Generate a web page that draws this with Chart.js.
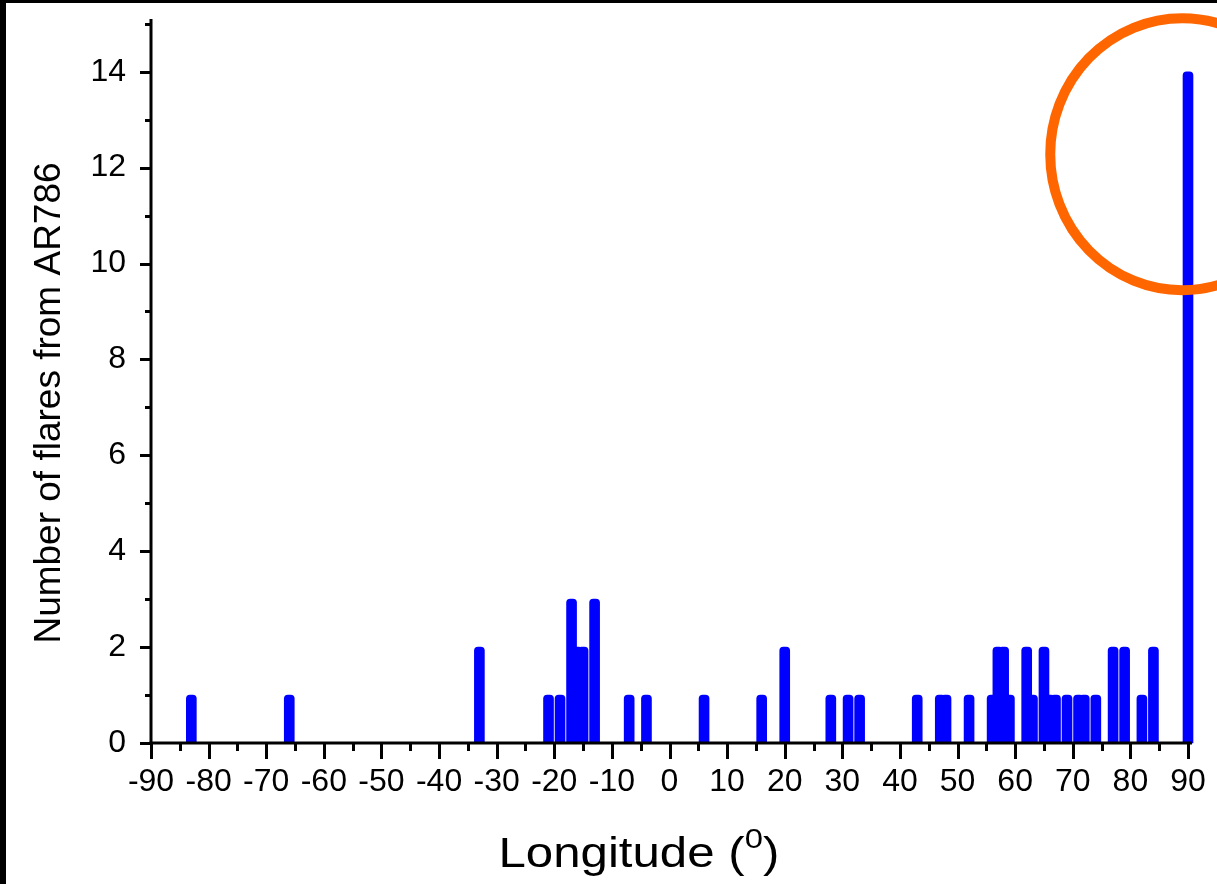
<!DOCTYPE html>
<html><head><meta charset="utf-8">
<script src="https://cdn.jsdelivr.net/npm/chart.js@4.4.1/dist/chart.umd.min.js"></script>
<style>html,body{margin:0;padding:0;background:#fff;overflow:hidden}canvas{display:block}</style>
</head><body>
<canvas id="c" width="1217" height="884"></canvas>
<script>
// ---- data ----
const longitudes  = [-83,-66,-33,-21,-19,-17,-16,-15,-13,-7,-4,6,16,20,28,31,33,43,47,48,52,56,57,58,59,62,63,65,66,67,69,71,72,74,77,79,82,84,90];
const flareCounts = [  1,  1,  2,  1,  1,  3,  2,  2,  3, 1, 1,1, 1, 2, 1, 1, 1, 1, 1, 1, 1, 1, 2, 2, 1, 2, 1, 2, 1, 1, 1, 1, 1, 1, 2, 2, 1, 2,14];
const xTickValues = [-90,-80,-70,-60,-50,-40,-30,-20,-10,0,10,20,30,40,50,60,70,80,90];
const xMinorTickValues = [-85,-75,-65,-55,-45,-35,-25,-15,-5,5,15,25,35,45,55,65,75,85];
const yTickValues = [0,2,4,6,8,10,12,14];
const yMinorTickValues = [1,3,5,7,9,11,13,15];
const xTitleMain = 'Longitude (';
const xTitleSup = '0';
const xTitleEnd = ')';
const yTitle = 'Number of flares from AR786';
const highlightLongitude = 89;
const highlightCount = 12.28;

const FONT = '"Liberation Sans", Arial, Helvetica, sans-serif';

const bgPlugin = {
  id: 'bg',
  beforeDraw(chart) {
    const ctx = chart.ctx;
    ctx.save();
    ctx.fillStyle = '#fff';
    ctx.fillRect(0, 0, chart.width, chart.height);
    ctx.fillStyle = '#000';
    ctx.fillRect(0, 0, chart.width, 3);
    ctx.fillRect(0, 0, 6, chart.height);
    ctx.restore();
  }
};

const axesPlugin = {
  id: 'axesTicks',
  afterDatasetsDraw(chart) {
    const {ctx, scales: {x, y}} = chart;
    ctx.save();
    ctx.strokeStyle = '#000';
    ctx.lineWidth = 3;
    ctx.lineCap = 'butt';
    const line = (x1, y1, x2, y2) => { ctx.beginPath(); ctx.moveTo(x1, y1); ctx.lineTo(x2, y2); ctx.stroke(); };
    const y0 = y.getPixelForValue(0);
    const xl = x.getPixelForValue(-90);
    // axis lines
    line(xl, y.getPixelForValue(y.max), xl, y0 + 1.5);
    line(xl - 1.5, y0, x.getPixelForValue(90) + 4, y0);
    // x ticks
    xTickValues.forEach(v => { const p = Math.round(x.getPixelForValue(v)) + 0.5; line(p, y0, p, y0 + 16); });
    xMinorTickValues.forEach(v => { const p = Math.round(x.getPixelForValue(v)) + 0.5; line(p, y0, p, y0 + 8); });
    // y ticks
    yTickValues.forEach(v => { const p = Math.round(y.getPixelForValue(v)) + 0.5; line(xl, p, xl - 11, p); });
    yMinorTickValues.forEach(v => { const p = Math.round(y.getPixelForValue(v)) + 0.5; line(xl, p, xl - 6, p); });
    ctx.restore();
  }
};

const titlePlugin = {
  id: 'titles',
  afterDraw(chart) {
    const ctx = chart.ctx;
    ctx.save();
    ctx.fillStyle = '#000';
    ctx.font = '37px ' + FONT;
    ctx.textAlign = 'center';
    ctx.textBaseline = 'alphabetic';
    ctx.translate(60, 403);
    ctx.rotate(-Math.PI / 2);
    ctx.fillText(yTitle, 0, 0);
    ctx.restore();

    ctx.save();
    ctx.fillStyle = '#000';
    ctx.textAlign = 'left';
    ctx.textBaseline = 'alphabetic';
    ctx.font = '42px ' + FONT;
    const m = ctx.measureText('Longitude');
    const ink = m.actualBoundingBoxRight + m.actualBoundingBoxLeft;
    const sx = 211 / ink;
    ctx.translate(502, 867);
    ctx.scale(sx, 1);
    let px = m.actualBoundingBoxLeft;
    ctx.fillText(xTitleMain, px, 0);
    px += ctx.measureText(xTitleMain).width;
    ctx.font = '28px ' + FONT;
    ctx.fillText(xTitleSup, px, -19);
    px += ctx.measureText(xTitleSup).width;
    ctx.font = '42px ' + FONT;
    ctx.fillText(xTitleEnd, px, 0);
    ctx.restore();
  }
};

const circlePlugin = {
  id: 'highlight',
  afterDraw(chart) {
    const {ctx, scales: {x, y}} = chart;
    ctx.save();
    ctx.strokeStyle = 'rgb(255,102,0)';
    ctx.lineWidth = 10;
    ctx.beginPath();
    ctx.ellipse(x.getPixelForValue(highlightLongitude), y.getPixelForValue(highlightCount), 132, 136, 0, 0, Math.PI * 2);
    ctx.stroke();
    ctx.restore();
  }
};

const zeroPad = s => { s.paddingLeft = 0; s.paddingRight = 0; s.paddingTop = 0; s.paddingBottom = 0; };

new Chart(document.getElementById('c'), {
  type: 'bar',
  data: {
    datasets: [{
      data: longitudes.map((lon, i) => ({x: lon, y: flareCounts[i]})),
      backgroundColor: 'rgb(0,0,255)',
      borderWidth: 0,
      barThickness: 10,
      borderRadius: 4,
      borderSkipped: 'start',
      clip: false
    }]
  },
  options: {
    responsive: false,
    animation: false,
    devicePixelRatio: 1,
    layout: { padding: { left: 0, top: 19, right: 29, bottom: 0 } },
    plugins: { legend: { display: false }, tooltip: { enabled: false }, title: { display: false } },
    scales: {
      x: {
        type: 'linear',
        min: -90, max: 90,
        offset: false,
        grid: { display: false, drawTicks: false },
        border: { display: false },
        afterBuildTicks: s => { s.ticks = xTickValues.map(v => ({value: v})); },
        afterFit: s => { s.height = 141; zeroPad(s); },
        ticks: {
          autoSkip: false, maxRotation: 0, minRotation: 0,
          padding: 20,
          color: '#000',
          font: { family: FONT, size: 32 },
          callback: v => String(v)
        }
      },
      y: {
        type: 'linear',
        min: 0, max: 15.1,
        grid: { display: false, drawTicks: false },
        border: { display: false },
        afterBuildTicks: s => { s.ticks = yTickValues.map(v => ({value: v})); },
        afterFit: s => { s.width = 151; zeroPad(s); },
        ticks: {
          padding: 25,
          color: '#000',
          font: { family: FONT, size: 32 },
          callback: v => String(v)
        }
      }
    }
  },
  plugins: [bgPlugin, axesPlugin, titlePlugin, circlePlugin]
});
</script>
</body></html>
